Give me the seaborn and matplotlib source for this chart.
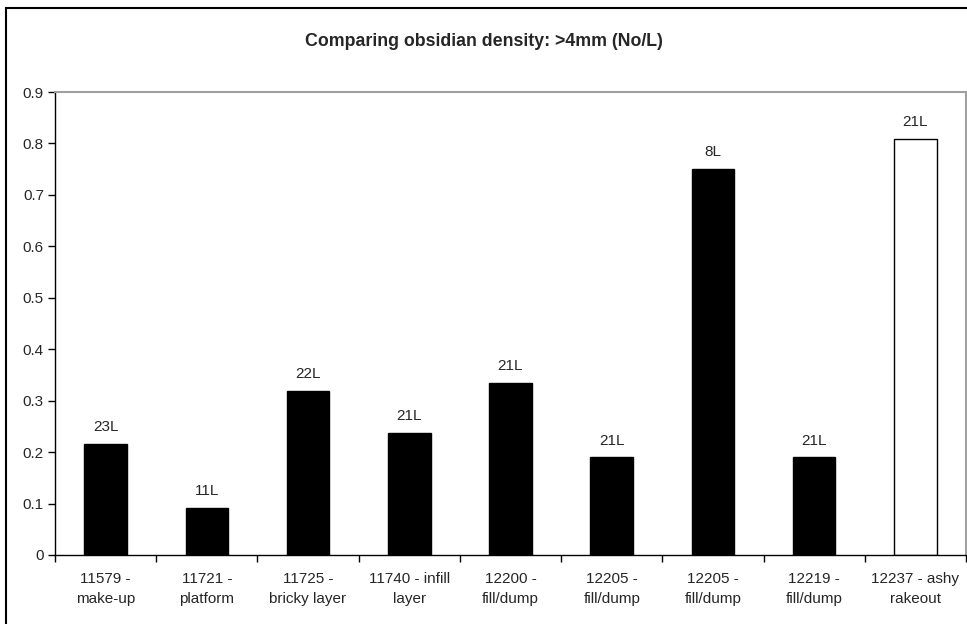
import matplotlib
matplotlib.use("Agg")
import matplotlib.pyplot as plt
from matplotlib.patches import Rectangle
import seaborn as sns
import pandas as pd
import numpy as np

# Data
contexts = ["11579 -\nmake-up", "11721 -\nplatform", "11725 -\nbricky layer",
            "11740 - infill\nlayer", "12200 -\nfill/dump", "12205 -\nfill/dump",
            "12205 -\nfill/dump", "12219 -\nfill/dump", "12237 - ashy\nrakeout"]
density = [0.216, 0.091, 0.319, 0.238, 0.334, 0.190, 0.751, 0.190, 0.809]
volumes = ["23L", "11L", "22L", "21L", "21L", "21L", "8L", "21L", "21L"]
fills = ["black"] * 8 + ["white"]
yticks = [0, 0.1, 0.2, 0.3, 0.4, 0.5, 0.6, 0.7, 0.8, 0.9]
ytick_labels = ["0", "0.1", "0.2", "0.3", "0.4", "0.5", "0.6", "0.7", "0.8", "0.9"]
title = "Comparing obsidian density: >4mm (No/L)"

sns.set_style("white")
plt.rcParams["font.family"] = ["Liberation Sans", "DejaVu Sans"]

df = pd.DataFrame({"pos": list(range(len(density))), "density": density})

fig = plt.figure(figsize=(9.67, 6.24), dpi=100)
ax = fig.add_axes([55 / 967, 1 - 555 / 624, (966 - 55) / 967, (555 - 92) / 624])

sns.barplot(data=df, x="pos", y="density", hue="pos", palette=fills,
            legend=False, width=0.42, edgecolor="black", linewidth=1.0,
            ax=ax, saturation=1)

ax.set_xlim(-0.5, len(density) - 0.5)
ax.set_ylim(0, 0.9)
ax.set_yticks(yticks)
ax.set_yticklabels(ytick_labels, fontsize=11)
ax.set_xticks(range(len(contexts)))
ax.set_xticklabels(contexts, fontsize=11, linespacing=1.55)
ax.set_xticks(np.arange(-0.5, len(contexts), 1.0), minor=True)
ax.tick_params(axis="x", which="major", length=0, pad=12)
ax.tick_params(axis="x", which="minor", length=5, width=1, color="black",
               direction="out", bottom=True)
ax.tick_params(axis="y", length=5, width=1, color="black", direction="out",
               left=True, pad=3)
ax.set_xlabel("")
ax.set_ylabel("")

for side in ("left", "bottom"):
    ax.spines[side].set_color("black")
    ax.spines[side].set_linewidth(1.0)
for side in ("top", "right"):
    ax.spines[side].set_color("#a0a0a0")
    ax.spines[side].set_linewidth(1.5)
    ax.spines[side].set_visible(True)

for i, (v, lab) in enumerate(zip(density, volumes)):
    ax.annotate(lab, (i, v), xytext=(0, 7), textcoords="offset points",
                ha="center", va="bottom", fontsize=11)

fig.text(0.5, 1 - 42 / 624, title, ha="center", va="center",
         fontsize=12.8, fontweight="bold")

# chart frame
fig.patches.append(Rectangle((6 / 967, -0.1), 1.2, 0.1 + (624 - 8) / 624,
                             transform=fig.transFigure, fill=False,
                             edgecolor="black", linewidth=1.5))

fig.savefig("out.png", dpi=100)
